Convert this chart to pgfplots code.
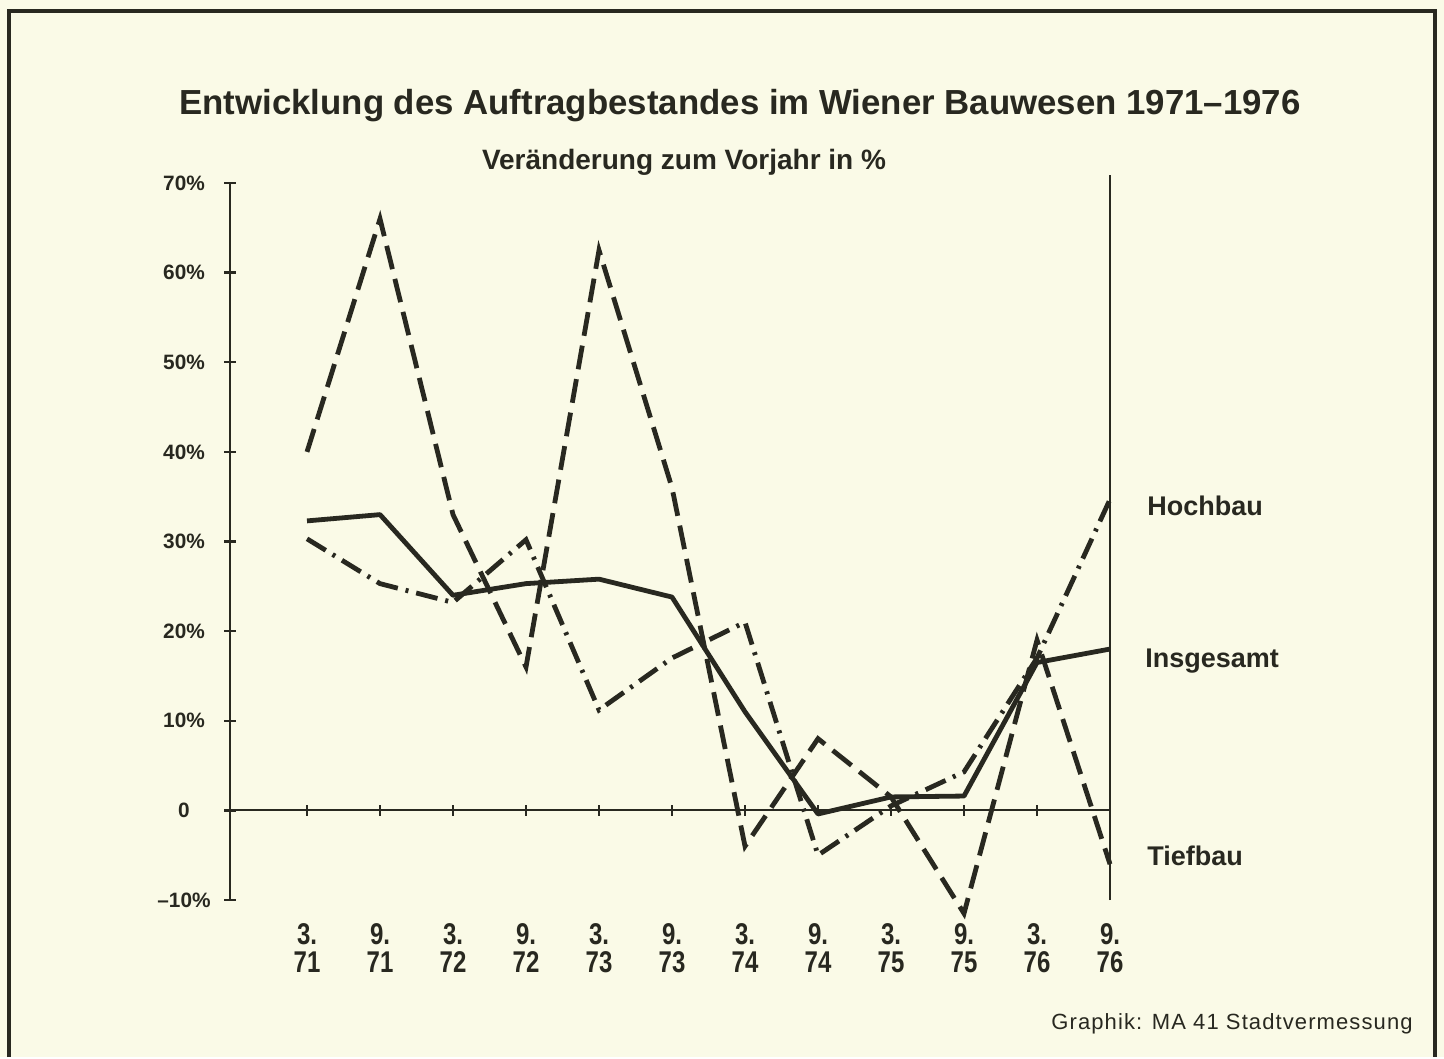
\documentclass[border=0pt]{standalone}
\usepackage{fontspec}
\setmainfont{Liberation Sans}
\newfontfamily\cond{Liberation Sans}[FakeStretch=0.8]
\newfontfamily\credfont{Liberation Sans}[LetterSpace=5]
\usepackage{pgfplots}
\pgfplotsset{compat=1.18}
\definecolor{ink}{RGB}{40,40,32}
\definecolor{paper}{RGB}{250,250,231}
\begin{document}
\begin{tikzpicture}[x=1pt,y=1pt]
\fill[paper] (0,0) rectangle (722,-528.5);
\draw[ink, line width=1.6pt] (4.5,-528.5) -- (4.5,-5.5) -- (717.5,-5.5) -- (717.5,-528.5);
\node[anchor=base, font=\bfseries\fontsize{17.4}{20}\selectfont, text=ink, inner sep=0pt] at (370,-57.5) {Entwicklung des Auftragbestandes im Wiener Bauwesen 1971--1976};
\node[anchor=base, font=\bfseries\fontsize{14}{16}\selectfont, text=ink, inner sep=0pt] at (342,-85) {Veränderung zum Vorjahr in \%};
\begin{axis}[
  at={(115pt,-450pt)}, anchor=south west,
  scale only axis, width=440pt, height=358.5pt,
  xmin=-1.055, xmax=11, ymin=-10, ymax=70,
  clip=false, no marks,
  axis y line*=left, axis x line*=bottom,
  x axis line style={draw=none},
  y axis line style={ink, line width=1.2pt, -},
  ytick={-10,0,...,70},
  yticklabels={--10\%,0,10\%,20\%,30\%,40\%,50\%,60\%,70\%},
  ytick style={ink, line width=1.2pt},
  major tick length=6pt, tick align=center,
  xtick={0,...,11},
  xtick style={draw=none},
  xticklabels={{3.\\71},{9.\\71},{3.\\72},{9.\\72},{3.\\73},{9.\\73},{3.\\74},{9.\\74},{3.\\75},{9.\\75},{3.\\76},{9.\\76}},
  xticklabel style={align=center, font=\cond\bfseries\fontsize{15}{14}\selectfont, text=ink, yshift=-5pt},
  yticklabel style={anchor=center, xshift=-20pt, font=\bfseries\fontsize{10.4}{12}\selectfont, text=ink},
]
% zero line, category ticks, right line
\draw[ink, line width=1pt] (axis cs:-1.055,0) -- (axis cs:11,0);
\pgfplotsinvokeforeach{0,...,10}{\draw[ink, line width=1pt] (axis cs:#1,-0.6) -- (axis cs:#1,0.6);}
\draw[ink, line width=1.4pt] (axis cs:11,-10) -- (axis cs:11,70.9);
% Insgesamt
\addplot[ink, line width=2.4pt, line join=round] coordinates {
 (0,32.3) (1,33.0) (2,24.0) (3,25.3) (4,25.8) (5,23.8) (6,11.0) (7,-0.4) (8,1.5) (9,1.6) (10,16.5) (11,18.0)};
% Tiefbau
\addplot[ink, line width=2.4pt, dash pattern=on 12pt off 5pt] coordinates {
 (0,40.0) (1,66.0) (2,33.0) (3,16.0) (4,62.5) (5,36.0) (6,-4.0) (7,8.0) (8,1.5) (9,-11.5) (10,19.0) (11,-6.0)};
% Hochbau
\addplot[ink, line width=2.4pt, dash pattern=on 11pt off 4pt on 1.5pt off 4pt] coordinates {
 (0,30.3) (1,25.3) (2,23.2) (3,30.2) (4,11.2) (5,17.0) (6,21.0) (7,-5.0) (8,0.5) (9,4.3) (10,17.0) (11,34.7)};
\end{axis}
\node[anchor=base west, font=\bfseries\fontsize{13.5}{16}\selectfont, text=ink, inner sep=0pt] at (573.5,-257.5) {Hochbau};
\node[anchor=base west, font=\bfseries\fontsize{13.5}{16}\selectfont, text=ink, inner sep=0pt] at (572.5,-333.5) {Insgesamt};
\node[anchor=base west, font=\bfseries\fontsize{13.5}{16}\selectfont, text=ink, inner sep=0pt] at (573.5,-432.5) {Tiefbau};
\node[anchor=base east, font=\credfont\fontsize{11}{13}\selectfont, text=ink, inner sep=0pt] at (706.5,-514.5) {Graphik: MA 41 Stadtvermessung};
\end{tikzpicture}
\end{document}
